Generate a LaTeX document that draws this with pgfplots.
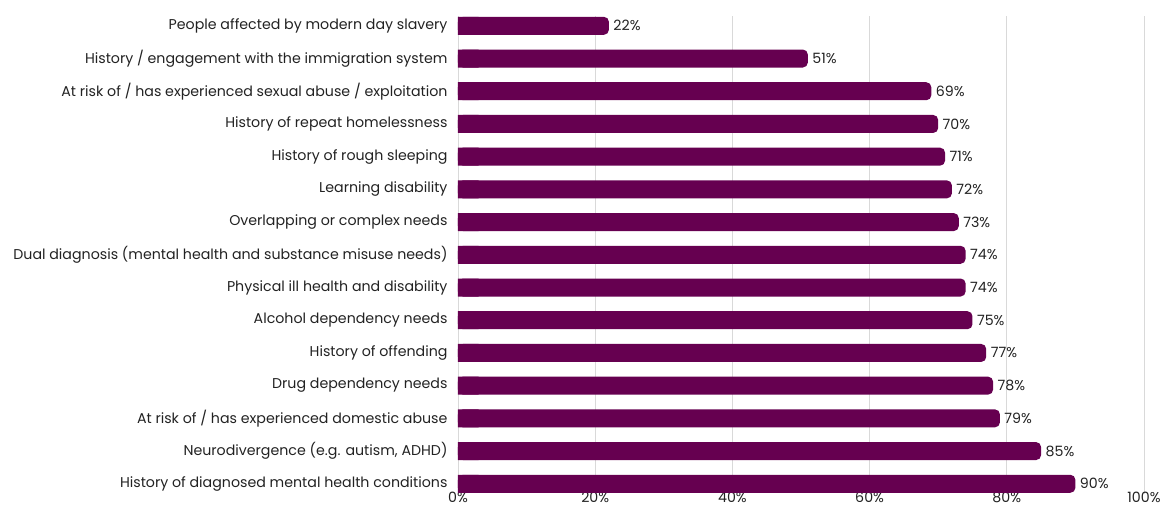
\documentclass[border=0pt]{standalone}
\usepackage{pgfplots}
\pgfplotsset{compat=1.18}
\usepackage{fontspec}
\setmainfont{Poppins}
\usetikzlibrary{calc}
\definecolor{barc}{RGB}{102,0,80}
\definecolor{txt}{RGB}{34,34,34}
\definecolor{gridc}{RGB}{217,217,217}
\begin{document}
\begin{tikzpicture}
\begin{axis}[
  scale only axis,
  width=686pt, height=477.6pt,
  xbar,
  xmin=0, xmax=100,
  ymin=-0.3, ymax=14.3,
  axis line style={draw=none},
  major tick length=0pt,
  xmajorgrids, grid style={gridc, line width=0.8pt},
  xtick={0,20,...,100},
  xticklabel={\pgfmathprintnumber{\tick}\%},
  xticklabel style={font=\fontsize{14.2}{16}\selectfont, text=txt, yshift=3pt, inner sep=1pt},
  ytick={0,...,14},
  yticklabels={
    History of diagnosed mental health conditions,
    Neurodivergence (e.g. autism{,} ADHD),
    At risk of / has experienced domestic abuse,
    Drug dependency needs,
    History of offending,
    Alcohol dependency needs,
    Physical ill health and disability,
    Dual diagnosis (mental health and substance misuse needs),
    Overlapping or complex needs,
    Learning disability,
    History of rough sleeping,
    History of repeat homelessness,
    At risk of / has experienced sexual abuse / exploitation,
    History / engagement with the immigration system,
    People affected by modern day slavery},
  yticklabel style={font=\fontsize{14.2}{16}\selectfont, text=txt, xshift=-7pt},
  /pgf/number format/assume math mode=true,
  bar width=18pt,
  clip=false,
]
\addplot[fill=barc, draw=none, rounded corners=5pt, bar shift=0pt,
  nodes near coords={\pgfmathprintnumber{\pgfplotspointmeta}\%},
  nodes near coords style={font=\fontsize{14.2}{16}\selectfont, text=txt, anchor=west, xshift=1pt},
  point meta=x]
coordinates {
(90,0) (85,1) (79,2) (78,3) (77,4) (75,5) (74,6) (74,7) (73,8) (72,9) (71,10) (70,11) (69,12) (51,13) (22,14)
};
\addplot[fill=barc, draw=none, bar shift=0pt]
coordinates {
(3,0) (3,1) (3,2) (3,3) (3,4) (3,5) (3,6) (3,7) (3,8) (3,9) (3,10) (3,11) (3,12) (3,13) (3,14)
};
\coordinate (SW) at (rel axis cs:0,0);
\coordinate (NE) at (rel axis cs:1,1);
\end{axis}
\pgfresetboundingbox
\useasboundingbox ($(SW)+(-458pt,-15pt)$) rectangle ($(NE)+(18pt,16pt)$);
\end{tikzpicture}
\end{document}
